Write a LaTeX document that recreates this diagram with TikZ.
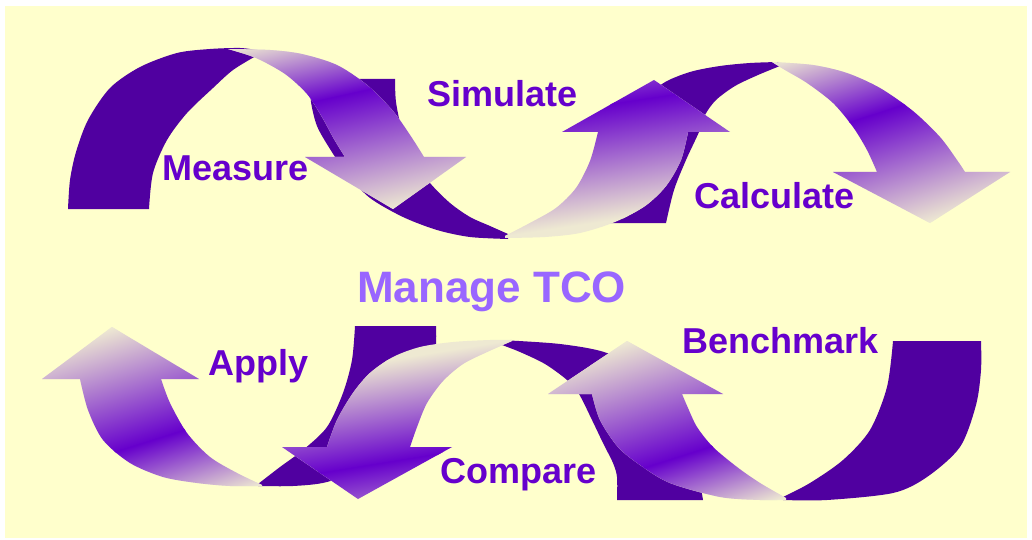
\documentclass[tikz,border=0pt]{standalone}
\usepackage{fontspec}
\setmainfont{Liberation Sans}

\definecolor{paper}{RGB}{255,255,204}
\definecolor{ribbon}{RGB}{80,0,160}
\definecolor{glow}{RGB}{102,0,204}
\definecolor{cream}{RGB}{238,233,210}
\definecolor{wordpurple}{RGB}{102,0,204}
\definecolor{lilac}{RGB}{153,102,255}

\tikzset{
	back/.style={fill=ribbon},
	% #1 start point, #2 canvas angle, #3 way to the violet band, #4 band to the pale end
	twirl/.style n args={4}{path picture={
		\begin{scope}[transform canvas={shift={(#1)},rotate=#2}]
			\fill[cream] (-700,-700) rectangle (700,700);
			\fill[glow] (#3-1,-700) rectangle (#3+1,700);
			\shade[left color=cream,right color=glow] (0,-700) rectangle (#3,700);
			\shade[left color=glow,right color=cream] (#3,-700) rectangle (#3+#4,700);
		\end{scope}}},
	word/.style={text=wordpurple,font=\bfseries\fontsize{36}{40}\selectfont,anchor=base west,inner sep=0pt}
}

\begin{document}
\begin{tikzpicture}[x=1pt,y=-1pt]
	%BACKGROUND
	\useasboundingbox (0,0) rectangle (1032,540);
	\fill[white] (0,0) rectangle (1032,540);
	\fill[paper] (5,6) rectangle (1027,538);

	%TOP ROW, dark backs
	\fill[back] plot[smooth] coordinates {(68,209) (70,180) (76,152) (88,120) (110,88) (140,67) (177,53) (210,49) (240,48) (256,50)}
		-- plot[smooth] coordinates {(256,56) (233,70) (213,88) (187,113) (167,140) (153,173) (149,209)} -- cycle;
	\fill[back] (395,79) -- plot[smooth] coordinates {(310,79) (311,102) (317,126) (330,149) (347,174) (370,198) (403,217) (437,230) (470,237) (508,239)}
		-- plot[smooth] coordinates {(508,234) (490,226) (470,217) (450,203) (430,183) (414,160) (402,130) (396,102) (395,79)} -- cycle;
	\fill[back] plot[smooth] coordinates {(603,223) (607,185) (618,145) (638,108) (662,84) (690,72) (720,66) (750,63) (778,62)}
		-- plot[smooth] coordinates {(780,66) (758,75) (735,86) (716,100) (705,115) (699,132) (686,160) (674,190) (666,223)} -- cycle;

	%TOP ROW, arrows
	\path[twirl={228,49}{-77.5}{70}{122}] plot[smooth] coordinates {(228,49) (270,50) (302,54) (337,65) (367,85) (393,111) (412,138) (424,157)}
		-- (466,157) -- (393,209) -- (305,157)
		-- plot[smooth] coordinates {(345,157) (334,139) (322,117) (307,94) (285,74) (256,58) (228,49)} -- cycle;
	\path[twirl={505,236}{98.5}{115}{90}] plot[smooth] coordinates {(505,236) (530,223) (556,208) (576,188) (590,161) (598,132)}
		-- (562,132) -- (654,80) -- (730,132)
		-- plot[smooth] coordinates {(688,132) (681,160) (666,186) (645,206) (615,222) (580,233) (545,237) (505,238)} -- cycle;
	\path[twirl={772,62}{-72.2}{81}{120}] plot[smooth] coordinates {(772,62) (813,65) (847,73) (880,88) (913,111) (940,137) (957,160) (965,172)}
		-- (1010,172) -- (930,223) -- (833,172)
		-- plot[smooth] coordinates {(877,172) (867,150) (853,127) (833,103) (807,83) (785,70) (772,62)} -- cycle;

	%BOTTOM ROW, dark backs
	\fill[back] (355,326) -- plot[smooth] coordinates {(436,326) (436,345) (432,375) (418,410) (400,440) (370,466) (327,482) (293,486) (258,486)}
		-- plot[smooth] coordinates {(258,484) (280,467) (303,450) (327,427) (343,393) (352,360) (355,326)} -- cycle;
	\fill[back] plot[smooth] coordinates {(500,340) (560,344) (607,353) (645,375) (675,410) (693,450) (703,500)}
		-- plot[smooth] coordinates {(617,500) (617,477) (613,463) (603,443) (592,420) (579,394) (567,380) (545,364) (520,352) (502,345)} -- cycle;
	\fill[back] plot[smooth] coordinates {(783,500) (827,500) (893,493) (927,477) (960,447) (976,405) (981,370) (981,341)}
		-- plot[smooth] coordinates {(893,341) (887,387) (870,430) (843,460) (810,483) (783,497)} -- cycle;

	%BOTTOM ROW, arrows
	\path[twirl={112,327}{-72.5}{120}{76}] (112,327) -- (199,379)
		-- plot[smooth] coordinates {(161,379) (170,403) (187,433) (210,457) (237,473) (262,485)}
		-- plot[smooth] coordinates {(262,486) (230,486) (197,483) (163,477) (130,463) (103,440) (88,410) (80,379)}
		-- (42,379) -- cycle;
	\path[twirl={510,340}{-80.8}{101}{90}] plot[smooth] coordinates {(327,447) (337,420) (353,393) (370,373) (393,357) (420,347) (453,342) (490,340) (512,340)}
		-- plot[smooth] coordinates {(512,341) (487,352) (463,364) (443,381) (427,403) (417,427) (410,447)}
		-- (452,447) -- (358,499) -- (282,447) -- cycle;
	\path[twirl={627,341}{-72.4}{126}{71}] (627,341) -- (723,394)
		-- plot[smooth] coordinates {(682,394) (688,408) (697,427) (713,447) (737,467) (760,483) (786,498)}
		-- plot[smooth] coordinates {(786,500) (760,500) (720,497) (670,483) (640,465) (618,447) (600,420) (592,394)}
		-- (548,394) -- cycle;

	%LABELS
	\node[word] (measure) at (162,180) {Measure};
	\node[word] (simulate) at (427,107) {Simulate};
	\node[word] (calculate) at (694,208) {Calculate};
	\node[word] (apply) at (208,375) {Apply};
	\node[word] (compare) at (440,483) {Compare};
	\node[word] (benchmark) at (682,353) {Benchmark};
	\node[word,text=lilac,font=\bfseries\fontsize{44}{48}\selectfont] (tco) at (357,302) {Manage TCO};
\end{tikzpicture}
\end{document}
